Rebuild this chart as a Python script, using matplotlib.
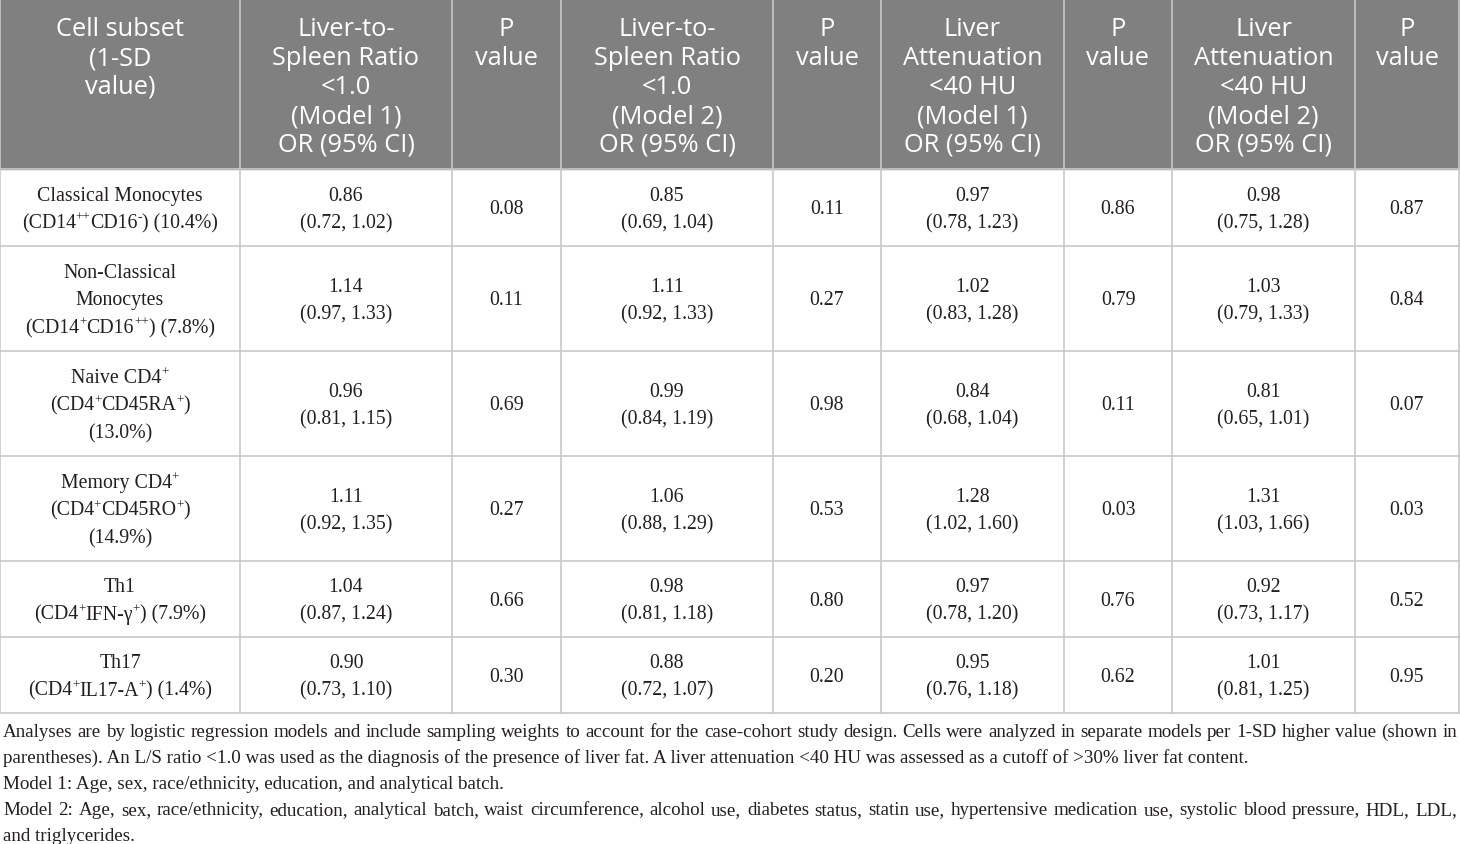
import re
import matplotlib
matplotlib.use("Agg")
import matplotlib.pyplot as plt

# table content
headers = [
    ["Cell subset", "(1-SD", "value)"],
    ["Liver-to-", "Spleen Ratio", "<1.0", "(Model 1)", "OR (95% CI)"],
    ["P", "value"],
    ["Liver-to-", "Spleen Ratio", "<1.0", "(Model 2)", "OR (95% CI)"],
    ["P", "value"],
    ["Liver", "Attenuation", "<40 HU", "(Model 1)", "OR (95% CI)"],
    ["P", "value"],
    ["Liver", "Attenuation", "<40 HU", "(Model 2)", "OR (95% CI)"],
    ["P", "value"],
]

# ^{...} marks superscript
cell_subsets = [
    ["Classical Monocytes", "(CD14^{++}CD16^{-}) (10.4%)"],
    ["Non-Classical", "Monocytes", "(CD14^{+}CD16^{++}) (7.8%)"],
    ["Naive CD4^{+}", "(CD4^{+}CD45RA^{+})", "(13.0%)"],
    ["Memory CD4^{+}", "(CD4^{+}CD45RO^{+})", "(14.9%)"],
    ["Th1", "(CD4^{+}IFN-γ^{+}) (7.9%)"],
    ["Th17", "(CD4^{+}IL17-A^{+}) (1.4%)"],
]

ls_m1_or = [0.86, 1.14, 0.96, 1.11, 1.04, 0.90]
ls_m1_lo = [0.72, 0.97, 0.81, 0.92, 0.87, 0.73]
ls_m1_hi = [1.02, 1.33, 1.15, 1.35, 1.24, 1.10]
ls_m1_p = [0.08, 0.11, 0.69, 0.27, 0.66, 0.30]

ls_m2_or = [0.85, 1.11, 0.99, 1.06, 0.98, 0.88]
ls_m2_lo = [0.69, 0.92, 0.84, 0.88, 0.81, 0.72]
ls_m2_hi = [1.04, 1.33, 1.19, 1.29, 1.18, 1.07]
ls_m2_p = [0.11, 0.27, 0.98, 0.53, 0.80, 0.20]

la_m1_or = [0.97, 1.02, 0.84, 1.28, 0.97, 0.95]
la_m1_lo = [0.78, 0.83, 0.68, 1.02, 0.78, 0.76]
la_m1_hi = [1.23, 1.28, 1.04, 1.60, 1.20, 1.18]
la_m1_p = [0.86, 0.79, 0.11, 0.03, 0.76, 0.62]

la_m2_or = [0.98, 1.03, 0.81, 1.31, 0.92, 1.01]
la_m2_lo = [0.75, 0.79, 0.65, 1.03, 0.73, 0.81]
la_m2_hi = [1.28, 1.33, 1.01, 1.66, 1.17, 1.25]
la_m2_p = [0.87, 0.84, 0.07, 0.03, 0.52, 0.95]

footnotes = [
    ("Analyses are by logistic regression models and include sampling weights to account for the case-cohort "
     "study design. Cells were analyzed in separate models per 1-SD higher value (shown in", True),
    ("parentheses). An L/S ratio <1.0 was used as the diagnosis of the presence of liver fat. A liver attenuation "
     "<40 HU was assessed as a cutoff of >30% liver fat content.", False),
    ("Model 1: Age, sex, race/ethnicity, education, and analytical batch.", False),
    ("Model 2: Age, sex, race/ethnicity, education, analytical batch, waist circumference, alcohol use, diabetes "
     "status, statin use, hypertensive medication use, systolic blood pressure, HDL, LDL,", True),
    ("and triglycerides.", False),
]

# layout (pixels)
W, H = 1460, 845
col_edges = [0, 240, 452, 561, 773, 881, 1064, 1172, 1355, 1459]
row_edges = [0, 170, 247, 352, 457, 562, 638, 714]
header_bg = "#808080"
grid_col = "#c8c8c8"
body_col = "#231f20"
serif = "Liberation Serif"
sans = "Open Sans"
body_size = 14.3
fn_size = 13.7

fig = plt.figure(figsize=(W / 100, H / 100), dpi=100)
ax = fig.add_axes([0, 0, 1, 1])
ax.set_xlim(0, W)
ax.set_ylim(H, 0)
ax.axis("off")
renderer = fig.canvas.get_renderer()


def text_width(s, size):
    # measure with a bar appended so trailing spaces count
    t = ax.text(0, 0, s + "|", fontsize=size, family=serif)
    b = ax.text(0, 0, "|", fontsize=size, family=serif)
    w = t.get_window_extent(renderer).width - b.get_window_extent(renderer).width
    t.remove()
    b.remove()
    return w


def rich_line(xc, yb, s, size):
    parts = re.split(r"\^\{([^}]*)\}", s)
    segs = [(p, i % 2 == 1) for i, p in enumerate(parts) if p]
    sup_size = size * 0.66
    widths = [text_width(p, sup_size if sup else size) for p, sup in segs]
    x = xc - sum(widths) / 2
    raise_px = size * 100 / 72 * 0.36
    for (p, sup), w in zip(segs, widths):
        ax.text(x, yb - (raise_px if sup else 0), p, ha="left", va="baseline",
                color=body_col, fontsize=sup_size if sup else size, family=serif)
        x += w


ax.add_patch(plt.Rectangle((0, 0), W, row_edges[1], color=header_bg, zorder=0))

for x in col_edges:
    ax.plot([x, x], [0, row_edges[-1]], color=grid_col, lw=1.2, zorder=1)
for y in row_edges:
    ax.plot([0, col_edges[-1]], [y, y], color=grid_col, lw=1.2, zorder=1)

# header
for j, lines in enumerate(headers):
    xc = (col_edges[j] + col_edges[j + 1]) / 2
    for k, line in enumerate(lines):
        ax.text(xc, 27 + 29 * k + 9, line, ha="center", va="baseline",
                color="white", fontsize=18.3, family=sans)

# body
columns = []
for ors, lo, hi, p in [(ls_m1_or, ls_m1_lo, ls_m1_hi, ls_m1_p),
                       (ls_m2_or, ls_m2_lo, ls_m2_hi, ls_m2_p),
                       (la_m1_or, la_m1_lo, la_m1_hi, la_m1_p),
                       (la_m2_or, la_m2_lo, la_m2_hi, la_m2_p)]:
    columns.append([[f"{o:.2f}", f"({a:.2f}, {b:.2f})"] for o, a, b in zip(ors, lo, hi)])
    columns.append([[f"{v:.2f}"] for v in p])

line_gap = 27.5
for i in range(len(cell_subsets)):
    yc = (row_edges[i + 1] + row_edges[i + 2]) / 2
    cells = [cell_subsets[i]] + [c[i] for c in columns]
    for j, lines in enumerate(cells):
        xc = (col_edges[j] + col_edges[j + 1]) / 2
        n = len(lines)
        for k, line in enumerate(lines):
            yb = yc + (k - (n - 1) / 2) * line_gap + 6
            rich_line(xc, yb, line, body_size)

# footnotes (justified lines placed word by word)
for k, (line, justify) in enumerate(footnotes):
    yb = 731 + 26 * k + 6
    if not justify:
        ax.text(3, yb, line, ha="left", va="baseline", color=body_col,
                fontsize=fn_size, family=serif)
        continue
    words = line.split(" ")
    texts = [ax.text(0, yb, w, ha="left", va="baseline", color=body_col,
                     fontsize=fn_size, family=serif) for w in words]
    widths = [t.get_window_extent(renderer).width for t in texts]
    gap = (W - 3 - 3 - sum(widths)) / (len(words) - 1)
    x = 3
    for t, wd in zip(texts, widths):
        t.set_x(x)
        x += wd + gap

fig.savefig("out.png", dpi=100)
